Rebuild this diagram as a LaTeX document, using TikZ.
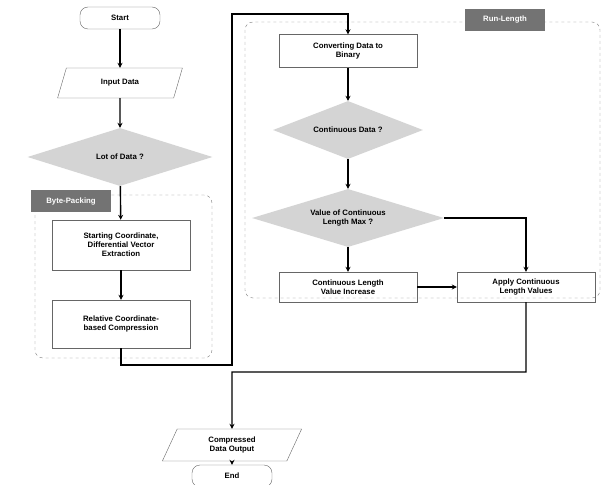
\documentclass[tikz,border=0pt]{standalone}
\usepackage{fontspec}
\setmainfont{Liberation Sans}
\usetikzlibrary{arrows.meta,shapes.geometric}

\tikzset{
  base/.style={draw=black!60, font=\fontsize{7.8}{9}\selectfont\bfseries, align=center, inner sep=1pt},
  term/.style={base, rounded corners=8pt, minimum width=80pt, minimum height=22pt},
  io/.style={base, trapezium, trapezium left angle=70, trapezium right angle=110, trapezium stretches=true, minimum width=125pt, minimum height=30pt},
  proc/.style={base, minimum width=138pt, minimum height=#1},
  proc/.default=30pt,
  dec/.style={base, diamond, fill=black!17, draw=none, aspect=3.2, minimum width=#1, minimum height=58pt},
  tag/.style={fill=black!55, text=white, font=\fontsize{7.8}{9}\selectfont\bfseries, minimum width=80pt, minimum height=22pt},
  group/.style={draw=black!50, dashed, rounded corners=8pt},
  flow/.style={draw=black, line width=1.4pt, -{Stealth[length=5, width=5]}}
}

\begin{document}
\begin{tikzpicture}[x=1pt, y=-1pt]
\useasboundingbox (0,0) rectangle (615,484);

% groups
\draw[group] (35,195) rectangle (212,358);
\draw[group] (245,22) rectangle (600,298);
\node[tag] (bp) at (71,201) {Byte-Packing};
\node[tag] (rl) at (505,20) {Run-Length};

% left column
\node[term] (start) at (120,18) {Start};
\node[io] (input) at (120,83) {Input Data};
\node[dec=185pt] (lot) at (120,157) {Lot of Data ?};
\node[proc=50pt] (scd) at (121,245) {Starting Coordinate,\\Differential Vector\\Extraction};
\node[proc=48pt] (rcc) at (121,324) {Relative Coordinate-\\based Compression};

% right column
\node[proc=33pt] (conv) at (348,51) {Converting Data to\\Binary};
\node[dec=150pt] (cont) at (348,130) {Continuous Data ?};
\node[dec=192pt] (vmax) at (348,218) {Value of Continuous\\Length Max ?};
\node[proc] (incr) at (348,287) {Continuous Length\\Value Increase};
\node[proc] (apply) at (526,287) {Apply Continuous\\Length Values};

% output
\node[io, minimum width=140pt, minimum height=32pt] (out) at (232,445) {Compressed\\Data Output};
\node[term] (end) at (232,476) {End};

% connectors
\draw[flow] (start) -- (input);
\draw[flow] (input) -- (lot);
\draw[flow] (lot) -- (scd);
\draw[flow] (scd) -- (rcc);
\draw[flow] (rcc.south) |- (232,365) |- (348,14) -- (conv.north);
\draw[flow] (conv) -- (cont);
\draw[flow] (cont) -- (vmax);
\draw[flow] (vmax) -- (incr);
\draw[flow] (vmax.east) -| (apply.north);
\draw[flow] (incr) -- (apply);
\draw[flow] (apply.south) |- (232,372) -- (out.north);
\draw[flow] (out) -- (end);
\end{tikzpicture}
\end{document}
